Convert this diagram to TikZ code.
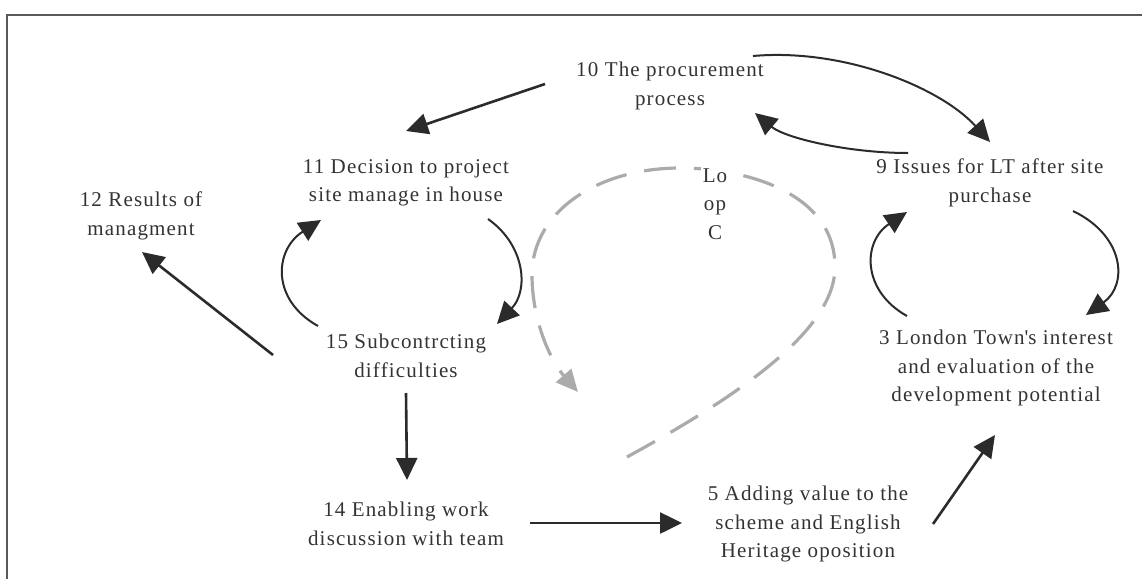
\documentclass[tikz,border=0pt]{standalone}
\usepackage{fontspec}
\setmainfont{Liberation Serif}[LetterSpace=5.5]
\usetikzlibrary{arrows.meta,positioning}
\definecolor{txtgray}{HTML}{333333}
\definecolor{arrowgray}{HTML}{2B2B2B}
\definecolor{loopgray}{HTML}{ABABAB}
\definecolor{framegray}{HTML}{5A5A5A}

\begin{document}
\begin{tikzpicture}[x=0.5pt, y=-0.5pt,
    factor/.style={align=center, text=txtgray, inner sep=0pt, font=\fontsize{10.5}{14.3}\selectfont},
    link/.style={-{Triangle[length=11pt,width=10.5pt]}, draw=arrowgray, line width=1.3pt},
    bendlink/.style={link, line width=1pt},
    loopline/.style={draw=loopgray, line width=1.6pt, dash pattern=on 16pt off 9pt, -{Triangle[length=11pt,width=10pt]}}]
    \useasboundingbox (0,0) rectangle (1142,579);
    \draw[framegray, line width=1.2pt] (1142,15) -| (7,579);

    % Nodes
    \node (procure) [factor] at (670,86) {10 The procurement\\process};
    \node (decide) [factor] at (406,183) {11 Decision to project\\site manage in house};
    \node (results) [factor] at (141,216) {12 Results of\\managment};
    \node (issues) [factor] at (990,183) {9 Issues for LT after site\\purchase};
    \node (subcon) [factor, on grid, below=86.5pt of decide] {15 Subcontrcting\\difficulties};
    \node (enabling) [factor, on grid, below=84pt of subcon] {14 Enabling work\\discussion with team};
    \node (adding) [factor] at (808,524) {5 Adding value to the\\scheme and English\\Heritage oposition};
    \node (london) [factor] at (996,368) {3 London Town\textquotesingle s interest\\and evaluation of the\\development potential};

    % Loop C
    \coordinate (loopstart) at (627,457);
    \coordinate (loopend) at (578,392);
    \draw [loopline] (loopstart) .. controls (740,395) and (835,330) .. (835,267)
        .. controls (835,190) and (740,168) .. (680,168)
        .. controls (600,168) and (532,210) .. (532,275)
        .. controls (532,320) and (550,360) .. (loopend);
    \node (loopC) [factor, fill=white, inner sep=1pt] at (715,204) {Lo\\op\\C};

    % Arrows
    \draw [link] ([shift={(-125,-2)}]procure.center) -- ([shift={(0,-52)}]decide.center);
    \draw [bendlink] ([shift={(83,-30)}]procure.center) .. controls +(90,-8) and +(-50,-55) .. ([shift={(0,-41)}]issues.center);
    \draw [bendlink] ([shift={(-82,-30)}]issues.center) .. controls +(-60,0) and +(30,25) .. ([shift={(85,27)}]procure.center);
    \draw [bendlink] ([shift={(82,36)}]decide.center) .. controls +(37,26) and +(32,-34) .. ([shift={(91,-32)}]subcon.center);
    \draw [bendlink] ([shift={(-88,-30)}]subcon.center) .. controls +(-47,-26) and +(-47,30) .. ([shift={(-85,37)}]decide.center);
    \draw [link] ([shift={(-133,-1)}]subcon.center) -- ([shift={(1,36)}]results.center);
    \draw [link] ([shift={(0,37)}]subcon.center) -- ([shift={(1,-44)}]enabling.center);
    \draw [link] ([shift={(124,-1)}]enabling.center) -- ([shift={(-126,-1)}]adding.center);
    \draw [link] ([shift={(125,0)}]adding.center) -- ([shift={(-1,67)}]london.center);
    \draw [bendlink] ([shift={(-89,-52)}]london.center) .. controls +(-45,-25) and +(-45,30) .. ([shift={(-83,29)}]issues.center);
    \draw [bendlink] ([shift={(83,28)}]issues.center) .. controls +(52,25) and +(42,-30) .. ([shift={(90,-53)}]london.center);
\end{tikzpicture}
\end{document}
